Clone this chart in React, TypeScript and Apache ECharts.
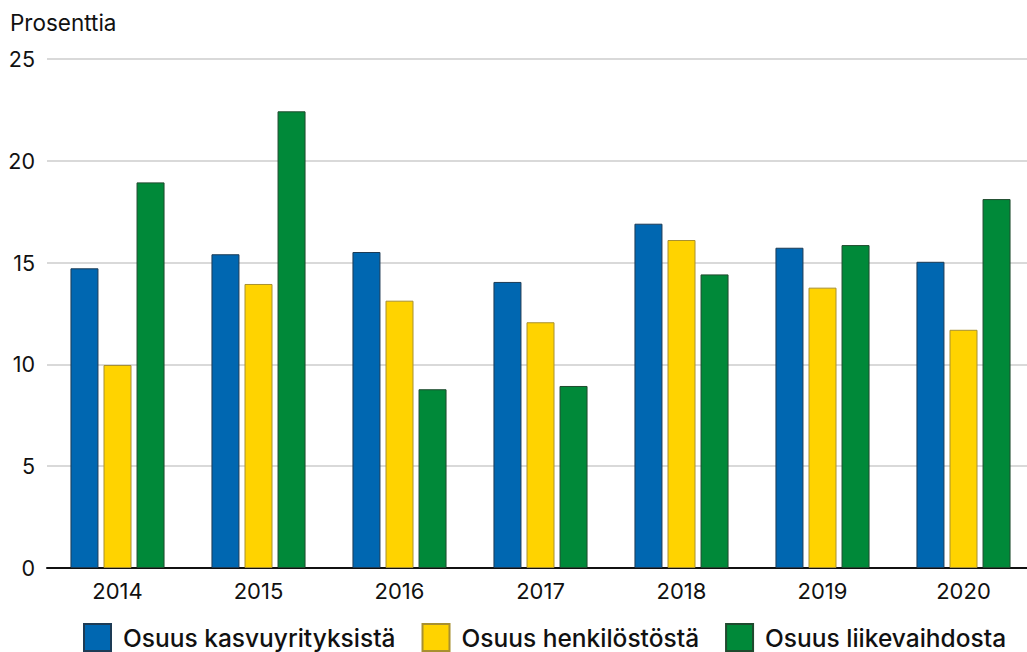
import React, { useEffect, useRef } from "react";
import * as echarts from "echarts";

const categories = ["2014", "2015", "2016", "2017", "2018", "2019", "2020"];
const growthFirms = [14.72, 15.41, 15.52, 14.05, 16.91, 15.73, 15.04];
const personnel = [9.97, 13.95, 13.13, 12.07, 16.11, 13.77, 11.7];
const revenue = [18.94, 22.43, 8.78, 8.94, 14.42, 15.86, 18.12];
const seriesNames = ["Osuus kasvuyrityksistä", "Osuus henkilöstöstä", "Osuus liikevaihdosta"];

const FONT = "Inter, 'Noto Sans', sans-serif";

export default function App() {
  const ref = useRef<HTMLDivElement>(null);
  useEffect(() => {
    if (!ref.current) return;
    const chart = echarts.init(ref.current, null, { renderer: "svg" });
    const mk = (name: string, data: number[], color: string, border: string) => ({
      name,
      type: "bar",
      data,
      barWidth: 28,
      barGap: "18%",
      itemStyle: { color, borderColor: border, borderWidth: 1 },
    });
    chart.setOption({
      animation: false,
      textStyle: { fontFamily: FONT },
      grid: { left: 47, right: 6, top: 59, bottom: 84, containLabel: false },
      graphic: [
        {
          type: "text",
          left: 10,
          top: 11,
          style: { text: "Prosenttia", fontSize: 22.5, fontFamily: FONT, fill: "#111" },
        },
      ],
      legend: {
        data: seriesNames,
        left: 78,
        top: 623,
        padding: [0, 5, 0, 5],
        itemWidth: 27,
        itemHeight: 27,
        itemGap: 26,
        icon: "rect",
        textStyle: {
          fontSize: 24.5,
          fontWeight: 500,
          color: "#111",
          fontFamily: FONT,
          padding: [0, 0, 0, 7],
          lineHeight: 24,
        },
      },
      xAxis: {
        type: "category",
        data: categories,
        axisLine: { lineStyle: { color: "#111", width: 2 } },
        axisTick: { show: false },
        axisLabel: { fontSize: 22, color: "#111", margin: 12, fontFamily: FONT },
      },
      yAxis: {
        type: "value",
        min: 0,
        max: 25,
        interval: 5,
        axisLine: { show: false },
        axisTick: { show: false },
        splitLine: { lineStyle: { color: "#cccccc", width: 1.5 } },
        axisLabel: { fontSize: 21.5, color: "#111", margin: 12, fontFamily: FONT },
      },
      series: [
        mk(seriesNames[0], growthFirms, "#0067b1", "#1d3b55"),
        mk(seriesNames[1], personnel, "#ffd300", "#a89030"),
        mk(seriesNames[2], revenue, "#008939", "#1f4a2e"),
      ],
    });
    return () => chart.dispose();
  }, []);
  return (
    <div style={{ position: "fixed", left: 0, top: 0, width: 1027, height: 652, overflow: "hidden", background: "#fff" }}>
      <div ref={ref} style={{ width: 1040, height: 652 }} />
    </div>
  );
}
